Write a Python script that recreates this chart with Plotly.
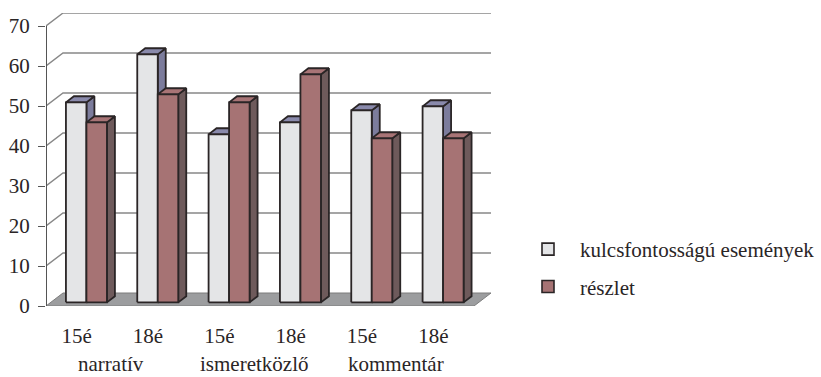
import plotly.graph_objects as go

# ---- data -------------------------------------------------------------
tick_labels = ["15é", "18é", "15é", "18é", "15é", "18é"]
group_labels = ["narratív", "ismeretközlő", "kommentár"]
series_names = ["kulcsfontosságú események", "részlet"]
kulcs = [50, 62, 42, 45, 48, 49]
reszlet = [45, 52, 50, 57, 41, 41]

# ---- styling ----------------------------------------------------------
FONT = "Liberation Serif"
FS = 21
INK = "#2a2526"
front_colors = ["#e4e5e7", "#a67374"]
top_colors = ["#8a8aac", "#a87476"]
side_colors = ["#7c7c9c", "#6e5a5b"]

W, H = 821, 377
L, R, T, B = 46, 330, 13, 71
n_cat = len(tick_labels)
px_per_x = (474 - L) / n_cat          # pixels per category unit
px_per_y = 4.0                        # pixels per value unit

# depth of the box (back wall shift), in data units
wall_dx = 17 / px_per_x
wall_dy = 13 / px_per_y
# bars stand inside the box between these depth fractions
f_front, f_depth = 0.28, 0.47
bar_w = 20.5 / px_per_x

x_max = n_cat + wall_dx
y_max = (H - B - T) / px_per_y

fig = go.Figure()

# back wall gridlines (with the diagonal on the left side wall)
gx, gy = [], []
for v in range(10, 71, 10):
    gx += [0, wall_dx, n_cat + wall_dx, None]
    gy += [v, v + wall_dy, v + wall_dy, None]
fig.add_trace(go.Scatter(x=gx, y=gy, mode="lines", hoverinfo="skip",
                         line=dict(color="#888888", width=1.4), showlegend=False))

# floor
fig.add_trace(go.Scatter(
    x=[0, n_cat, n_cat + wall_dx, wall_dx, 0],
    y=[0, 0, wall_dy, wall_dy, 0],
    mode="lines", fill="toself", fillcolor="#9c9d9f",
    line=dict(color="#7d7d7d", width=1), hoverinfo="skip", showlegend=False))

# front vertical axis line
fig.add_trace(go.Scatter(x=[0, 0], y=[0, 70], mode="lines", hoverinfo="skip",
                         line=dict(color="#555555", width=2), showlegend=False))


def bar_faces(values, sign):
    """Build front, top and side polygons for one series."""
    bdx = f_depth * wall_dx
    bdy = f_depth * wall_dy
    base = f_front * wall_dy
    fx, fy, tx, ty, sx, sy = [], [], [], [], [], []
    for i, v in enumerate(values):
        xc = i + 0.5 + f_front * wall_dx
        x0, x1 = (xc - bar_w, xc) if sign < 0 else (xc, xc + bar_w)
        top = base + v
        fx += [x0, x1, x1, x0, x0, None]
        fy += [base, base, top, top, base, None]
        tx += [x0, x1, x1 + bdx, x0 + bdx, x0, None]
        ty += [top, top, top + bdy, top + bdy, top, None]
        sx += [x1, x1 + bdx, x1 + bdx, x1, x1, None]
        sy += [base, base + bdy, top + bdy, top, base, None]
    return (fx, fy), (tx, ty), (sx, sy)


for k, (vals, sign) in enumerate([(kulcs, -1), (reszlet, 1)]):
    front, top, side = bar_faces(vals, sign)
    for (xs, ys), col in [(side, side_colors[k]), (top, top_colors[k]),
                          (front, front_colors[k])]:
        fig.add_trace(go.Scatter(x=xs, y=ys, mode="lines", fill="toself",
                                 fillcolor=col, hoverinfo="skip",
                                 line=dict(color=INK, width=1.8),
                                 showlegend=False))

# legend entries
for k, name in enumerate(series_names):
    fig.add_trace(go.Scatter(
        x=[None], y=[None], mode="markers", name=name, legendgroup=name,
        marker=dict(symbol="square", size=12, color=front_colors[k],
                    line=dict(color=INK, width=1.6))))

# group labels under the category ticks
for g, label in enumerate(group_labels):
    fig.add_annotation(x=2 * g + 1 - 0.09, y=-(364 - (H - B)) / (H - B - T),
                       xref="x", yref="paper", text=label, showarrow=False,
                       yanchor="middle", xanchor="center",
                       font=dict(family=FONT, size=FS, color=INK))

fig.update_layout(
    width=W, height=H,
    margin=dict(l=L, r=R, t=T, b=B, autoexpand=False),
    paper_bgcolor="white", plot_bgcolor="white",
    font=dict(family=FONT, size=FS, color=INK),
    showlegend=True,
    legend=dict(x=(516 - L) / (W - L - R), y=(H - B - 229) / (H - B - T),
                xanchor="left", yanchor="top", traceorder="grouped",
                tracegroupgap=7, itemwidth=54,
                font=dict(family=FONT, size=FS, color=INK),
                bgcolor="rgba(0,0,0,0)"),
    xaxis=dict(range=[0, x_max], showgrid=False, zeroline=False,
               showline=False, ticks="",
               tickvals=[i + 0.5 - 0.07 for i in range(n_cat)],
               ticktext=tick_labels, ticklabelstandoff=15,
               tickfont=dict(family=FONT, size=FS, color=INK)),
    yaxis=dict(range=[0, y_max], showgrid=False, zeroline=False,
               showline=False, ticks="outside", ticklen=7, tickwidth=1,
               tickcolor="#555555", tickvals=list(range(0, 71, 10)),
               ticklabelstandoff=4,
               tickfont=dict(family=FONT, size=FS, color=INK)),
)

fig.write_html("out.html")
